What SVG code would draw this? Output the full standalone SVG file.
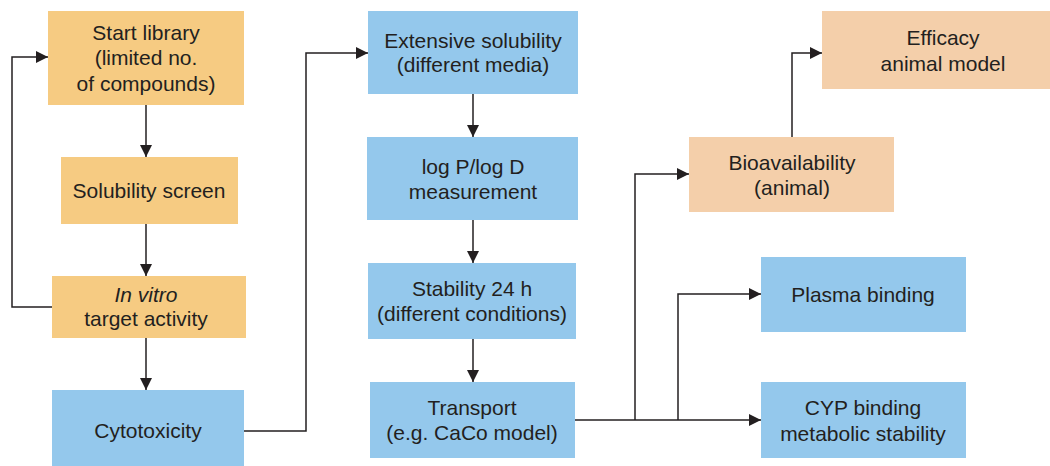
<svg xmlns="http://www.w3.org/2000/svg" width="1050" height="466" viewBox="0 0 1050 466">
<style>
.o{fill:#F6CB82}
.b{fill:#94C8EC}
.p{fill:#F4CFAA}
text{font-family:"Liberation Sans",Arial,sans-serif;font-size:21px;fill:#231F20;text-anchor:middle}
.c{fill:none;stroke:#231F20;stroke-width:1.5}
</style>
<defs>
<marker id="ah" viewBox="0 0 10 10" refX="10" refY="5" markerWidth="12" markerHeight="12" markerUnits="userSpaceOnUse" orient="auto">
<path d="M0,0 L10,5 L0,10 z" fill="#231F20"/>
</marker>
</defs>
<rect width="1050" height="466" fill="#fff"/>
<g id="connectors">
<path class="c" d="M146,105 V157" marker-end="url(#ah)"/>
<path class="c" d="M146,224 V276" marker-end="url(#ah)"/>
<path class="c" d="M146,338 V390" marker-end="url(#ah)"/>
<path class="c" d="M52,307 H12 V57 H48" marker-end="url(#ah)"/>
<path class="c" d="M244,431 H306 V53 H368" marker-end="url(#ah)"/>
<path class="c" d="M473,94 V137" marker-end="url(#ah)"/>
<path class="c" d="M473,220 V263" marker-end="url(#ah)"/>
<path class="c" d="M473,339 V382" marker-end="url(#ah)"/>
<path class="c" d="M575,420 H761" marker-end="url(#ah)"/>
<path class="c" d="M635,420 V174 H689" marker-end="url(#ah)"/>
<path class="c" d="M678,420 V294 H761" marker-end="url(#ah)"/>
<path class="c" d="M792,137 V53 H822" marker-end="url(#ah)"/>
</g>
<g id="start">
<rect class="o" x="48" y="11" width="196" height="94"/>
<text x="146" y="40">Start library</text>
<text x="146" y="65">(limited no.</text>
<text x="146" y="91">of compounds)</text>
</g>
<g id="solscreen">
<rect class="o" x="61" y="157" width="177" height="67"/>
<text x="149" y="198">Solubility screen</text>
</g>
<g id="invitro">
<rect class="o" x="52" y="276" width="194" height="62"/>
<text x="146" y="302" font-style="italic">In vitro</text>
<text x="146" y="326">target activity</text>
</g>
<g id="cyto">
<rect class="b" x="52" y="390" width="192" height="76"/>
<text x="148" y="438">Cytotoxicity</text>
</g>
<g id="extsol">
<rect class="b" x="368" y="11" width="210" height="83"/>
<text x="473" y="48">Extensive solubility</text>
<text x="473" y="72">(different media)</text>
</g>
<g id="logp">
<rect class="b" x="367" y="137" width="211" height="83"/>
<text x="473" y="174">log P/log D</text>
<text x="473" y="199">measurement</text>
</g>
<g id="stability">
<rect class="b" x="368" y="263" width="208" height="76"/>
<text x="472" y="296">Stability 24 h</text>
<text x="472" y="321">(different conditions)</text>
</g>
<g id="transport">
<rect class="b" x="370" y="382" width="205" height="76"/>
<text x="472" y="415">Transport</text>
<text x="472" y="440">(e.g. CaCo model)</text>
</g>
<g id="bioavail">
<rect class="p" x="689" y="137" width="205" height="75"/>
<text x="792" y="170">Bioavailability</text>
<text x="792" y="195">(animal)</text>
</g>
<g id="efficacy">
<rect class="p" x="822" y="11" width="228" height="78"/>
<text x="943" y="45">Efficacy</text>
<text x="943" y="71">animal model</text>
</g>
<g id="plasma">
<rect class="b" x="761" y="257" width="205" height="75"/>
<text x="863" y="302">Plasma binding</text>
</g>
<g id="cyp">
<rect class="b" x="761" y="382" width="205" height="76"/>
<text x="863" y="415">CYP binding</text>
<text x="863" y="441">metabolic stability</text>
</g>
</svg>
